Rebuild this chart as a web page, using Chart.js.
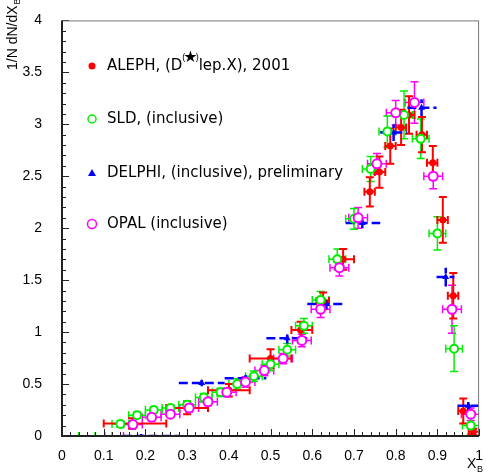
<!DOCTYPE html>
<html>
<head>
<meta charset="utf-8">
<script src="https://cdn.jsdelivr.net/npm/chart.js@4.4.1/dist/chart.umd.min.js"></script>
<style>
  html, body { margin: 0; padding: 0; background: #fff; }
</style>
</head>
<body>
<canvas id="xbChart" width="487" height="474"></canvas>
<script>
// ALEPH (D(*) lep. X), 2001 - red filled circles
const alephX   = [0.168, 0.30, 0.40, 0.50, 0.572, 0.626, 0.674, 0.738, 0.761, 0.787, 0.813, 0.832, 0.863, 0.889, 0.913, 0.938, 0.962, 0.986];
const alephY   = [0.12, 0.27, 0.44, 0.745, 1.02, 1.30, 1.70, 2.35, 2.54, 2.79, 2.97, 3.09, 2.90, 2.63, 2.08, 1.35, 0.24, 0.04];
const alephErr = [0.05, 0.06, 0.06, 0.09, 0.08, 0.08, 0.10, 0.14, 0.15, 0.17, 0.17, 0.18, 0.17, 0.16, 0.22, 0.22, 0.12, 0.03];
const alephLo  = [0.10, 0.25, 0.35, 0.45, 0.55, 0.61, 0.66, 0.725, 0.75, 0.775, 0.80, 0.82, 0.85, 0.875, 0.90, 0.925, 0.95, 0.975];
const alephHi  = [0.25, 0.35, 0.45, 0.55, 0.60, 0.64, 0.70, 0.75, 0.775, 0.80, 0.825, 0.845, 0.875, 0.90, 0.925, 0.95, 0.975, 1.0];

// SLD inclusive - green open circles
const sldX   = [0.02, 0.06, 0.10, 0.14, 0.18, 0.22, 0.26, 0.30, 0.34, 0.38, 0.42, 0.46, 0.50, 0.54, 0.58, 0.62, 0.66, 0.70, 0.74, 0.78, 0.82, 0.86, 0.90, 0.94, 0.98];
const sldY   = [0, 0, 0, 0.115, 0.20, 0.25, 0.27, 0.30, 0.37, 0.42, 0.50, 0.575, 0.69, 0.83, 1.06, 1.31, 1.70, 2.09, 2.57, 2.93, 3.09, 2.86, 1.95, 0.84, 0.10];
const sldErr = [0, 0, 0, 0.03, 0.03, 0.03, 0.03, 0.04, 0.04, 0.04, 0.05, 0.05, 0.06, 0.06, 0.07, 0.08, 0.10, 0.10, 0.12, 0.15, 0.23, 0.19, 0.16, 0.22, 0.08];
const sldHalfBin = 0.02;

// DELPHI inclusive, preliminary - blue triangles
const delphiX   = [0.19, 0.335, 0.44, 0.54, 0.634, 0.72, 0.795, 0.862, 0.92, 0.974];
const delphiY   = [0.0, 0.51, 0.555, 0.94, 1.27, 2.05, 2.92, 3.16, 1.53, 0.29];
const delphiErr = [0.02, 0.03, 0.03, 0.05, 0.05, 0.05, 0.08, 0.08, 0.09, 0.05];
const delphiLo  = [0.145, 0.28, 0.39, 0.49, 0.588, 0.68, 0.763, 0.828, 0.898, 0.948];
const delphiHi  = [0.28, 0.39, 0.49, 0.588, 0.68, 0.763, 0.828, 0.898, 0.941, 1.0];

// OPAL inclusive - magenta open circles
const opalX   = [0.125, 0.17, 0.215, 0.26, 0.305, 0.35, 0.395, 0.44, 0.485, 0.53, 0.575, 0.62, 0.665, 0.71, 0.755, 0.80, 0.845, 0.89, 0.935, 0.98];
const opalY   = [0, 0.11, 0.18, 0.21, 0.27, 0.33, 0.42, 0.52, 0.63, 0.745, 0.92, 1.22, 1.62, 2.10, 2.62, 3.11, 3.21, 2.50, 1.22, 0.21];
const opalErr = [0, 0.03, 0.03, 0.03, 0.04, 0.04, 0.04, 0.05, 0.05, 0.05, 0.06, 0.08, 0.08, 0.10, 0.10, 0.12, 0.20, 0.12, 0.23, 0.06];
const opalHalfBin = 0.0225;

const legendLabels = ['ALEPH, (D', 'SLD, (inclusive)', 'DELPHI, (inclusive), preliminary', 'OPAL (inclusive)'];

const FONT = '"Liberation Sans", Arial, sans-serif';
const LEGEND_FONT = '"DejaVu Sans", sans-serif';

function pts(xs, ys) {
  return xs.map((x, i) => ({ x: x, y: ys[i] }));
}

// error bars are drawn under the markers
const errorBars = {
  id: 'errorBars',
  beforeDatasetsDraw(chart) {
    const { ctx, chartArea: a, scales: { x, y } } = chart;
    ctx.save();
    ctx.beginPath();
    ctx.rect(a.left, a.top - 1, a.right - a.left, a.bottom - a.top + 1);
    ctx.clip();
    chart.data.datasets.forEach(ds => {
      const e = ds.err;
      ctx.strokeStyle = ds.borderColor;
      ctx.lineWidth = e.width;
      ctx.setLineDash(e.dash || []);
      ds.data.forEach((p, i) => {
        const px = x.getPixelForValue(p.x);
        const py = y.getPixelForValue(p.y);
        const x0 = x.getPixelForValue(e.lo[i]);
        const x1 = x.getPixelForValue(e.hi[i]);
        const y0 = y.getPixelForValue(p.y - e.dy[i]);
        const y1 = y.getPixelForValue(p.y + e.dy[i]);
        ctx.beginPath();
        ctx.moveTo(x0, py); ctx.lineTo(x1, py);
        if (e.dy[i] > 0) { ctx.moveTo(px, y0); ctx.lineTo(px, y1); }
        if (e.cap) {
          const c = e.cap;
          ctx.moveTo(x0, py - c); ctx.lineTo(x0, py + c);
          ctx.moveTo(x1, py - c); ctx.lineTo(x1, py + c);
          if (e.dy[i] > 0) {
            ctx.moveTo(px - c, y0); ctx.lineTo(px + c, y0);
            ctx.moveTo(px - c, y1); ctx.lineTo(px + c, y1);
          }
        }
        ctx.stroke();
      });
    });
    ctx.restore();
  }
};

function marker(ctx, kind, color, cx, cy) {
  ctx.save();
  ctx.beginPath();
  if (kind === 'tri') {
    ctx.moveTo(cx, cy - 4); ctx.lineTo(cx + 4, cy + 3); ctx.lineTo(cx - 4, cy + 3);
    ctx.closePath();
    ctx.fillStyle = color; ctx.fill();
  } else if (kind === 'dot') {
    ctx.arc(cx, cy, 3.5, 0, Math.PI * 2);
    ctx.fillStyle = color; ctx.fill();
  } else {
    ctx.arc(cx, cy, kind, 0, Math.PI * 2);
    ctx.lineWidth = 1.5; ctx.strokeStyle = color; ctx.stroke();
  }
  ctx.restore();
}

// frame, inward ticks, axis titles and the legend
const decor = {
  id: 'decor',
  afterDraw(chart) {
    const { ctx, chartArea: a, scales: { x, y } } = chart;
    ctx.save();
    ctx.strokeStyle = '#222';
    ctx.lineWidth = 1;
    for (let v = 0; v <= 1.0001; v += 0.02) {
      const px = Math.round(x.getPixelForValue(v)) + 0.5;
      const major = Math.abs(v * 10 - Math.round(v * 10)) < 0.001;
      ctx.beginPath(); ctx.moveTo(px, a.bottom); ctx.lineTo(px, a.bottom - (major ? 7 : 4)); ctx.stroke();
    }
    for (let v = 0; v <= 4.0001; v += 0.1) {
      const py = Math.round(y.getPixelForValue(v)) + 0.5;
      const major = Math.abs(v * 2 - Math.round(v * 2)) < 0.001;
      ctx.beginPath(); ctx.moveTo(a.left, py); ctx.lineTo(a.left + (major ? 7 : 4), py); ctx.stroke();
    }
    // box
    ctx.strokeStyle = '#777';
    ctx.strokeRect(a.left + 0.5, a.top + 0.5, a.right - a.left - 1, a.bottom - a.top);
    ctx.strokeStyle = '#222';
    ctx.lineWidth = 2;
    ctx.beginPath();
    ctx.moveTo(a.left, a.top); ctx.lineTo(a.left, a.bottom); ctx.lineTo(a.right, a.bottom);
    ctx.stroke();

    ctx.fillStyle = '#000';
    // y title
    ctx.save();
    ctx.translate(17, 70);
    ctx.rotate(-Math.PI / 2);
    ctx.font = '14px ' + FONT;
    ctx.textBaseline = 'alphabetic';
    ctx.fillText('1/N dN/dX', 0, 0);
    const w = ctx.measureText('1/N dN/dX').width;
    ctx.font = '9px ' + FONT;
    ctx.fillText('B', w + 1, 3);
    ctx.restore();
    // x title
    ctx.font = '14px ' + FONT;
    ctx.fillText('X', 467, 468);
    ctx.font = '9px ' + FONT;
    ctx.fillText('B', 477, 472);

    // legend
    const rows = [66, 119, 173, 224];
    marker(ctx, 'dot', '#ff0000', 92, rows[0]);
    marker(ctx, 4, '#00ee00', 92, rows[1]);
    marker(ctx, 'tri', '#0000ff', 92, rows[2]);
    marker(ctx, 4.5, '#ff00ff', 92, rows[3]);
    ctx.font = '15px ' + LEGEND_FONT;
    ctx.textBaseline = 'middle';
    let tx = 107;
    ctx.fillText(legendLabels[0], tx, rows[0]);
    tx += ctx.measureText(legendLabels[0]).width;
    ctx.font = '9px ' + FONT;
    ctx.fillText('(', tx, rows[0] - 8);
    tx += ctx.measureText('(').width;
    ctx.font = 'bold 16px "DejaVu Sans", sans-serif';
    ctx.fillText('\u2605', tx - 2, rows[0] - 8);
    tx += ctx.measureText('\u2605').width - 4;
    ctx.font = '9px ' + FONT;
    ctx.fillText(')', tx, rows[0] - 8);
    tx += ctx.measureText(')').width;
    ctx.font = '15px ' + LEGEND_FONT;
    ctx.fillText('lep.X), 2001', tx, rows[0]);
    for (let i = 1; i < 4; i++) ctx.fillText(legendLabels[i], 107, rows[i]);
    ctx.restore();
  }
};

const ctx = document.getElementById('xbChart');

new Chart(ctx, {
  type: 'scatter',
  data: {
    datasets: [
      {
        label: 'OPAL (inclusive)',
        data: pts(opalX, opalY),
        borderColor: '#ff00ff',
        backgroundColor: '#ffffff',
        pointStyle: 'circle',
        pointRadius: opalY.map(v => v > 0 ? 4.5 : 0),
        borderWidth: 2,
        err: { lo: opalX.map(v => v - opalHalfBin), hi: opalX.map(v => v + opalHalfBin), dy: opalErr, width: 1.5, cap: 4 }
      },
      {
        label: 'SLD, (inclusive)',
        data: pts(sldX, sldY),
        borderColor: '#00ee00',
        backgroundColor: '#ffffff',
        pointStyle: 'circle',
        pointRadius: sldY.map(v => v > 0 ? 4 : 0),
        borderWidth: 2,
        err: { lo: sldX.map(v => v - sldHalfBin), hi: sldX.map(v => v + sldHalfBin), dy: sldErr, width: 1.5, cap: 4 }
      },
      {
        label: 'ALEPH, (D(*)lep.X), 2001',
        data: pts(alephX, alephY),
        borderColor: '#ff0000',
        backgroundColor: '#ff0000',
        pointStyle: 'circle',
        pointRadius: 3.5,
        borderWidth: 0,
        err: { lo: alephLo, hi: alephHi, dy: alephErr, width: 2, cap: 4 }
      },
      {
        label: 'DELPHI, (inclusive), preliminary',
        data: pts(delphiX, delphiY),
        borderColor: '#0000ff',
        backgroundColor: '#0000ff',
        pointStyle: 'triangle',
        pointRadius: delphiY.map(v => v > 0 ? 4 : 0),
        borderWidth: 0,
        err: { lo: delphiLo, hi: delphiHi, dy: delphiErr, width: 2.5, dash: [9, 4] }
      }
    ]
  },
  options: {
    responsive: false,
    animation: false,
    devicePixelRatio: 1,
    layout: { padding: { top: 13, right: 1, left: 0, bottom: 0 } },
    plugins: { legend: { display: false }, tooltip: { enabled: false } },
    scales: {
      x: {
        type: 'linear', min: 0, max: 1,
        grid: { display: false },
        border: { display: false },
        afterFit: s => { s.height = 38; },
        ticks: {
          stepSize: 0.1, padding: 4, color: '#000', maxRotation: 0,
          font: { family: FONT, size: 14 },
          callback: v => String(Math.round(v * 10) / 10)
        }
      },
      y: {
        type: 'linear', min: 0, max: 4,
        grid: { display: false },
        border: { display: false },
        afterFit: s => { s.width = 62; },
        ticks: {
          stepSize: 0.5, padding: 12, color: '#000',
          font: { family: FONT, size: 14 },
          callback: v => String(v)
        }
      }
    }
  },
  plugins: [errorBars, decor]
});
</script>
</body>
</html>
